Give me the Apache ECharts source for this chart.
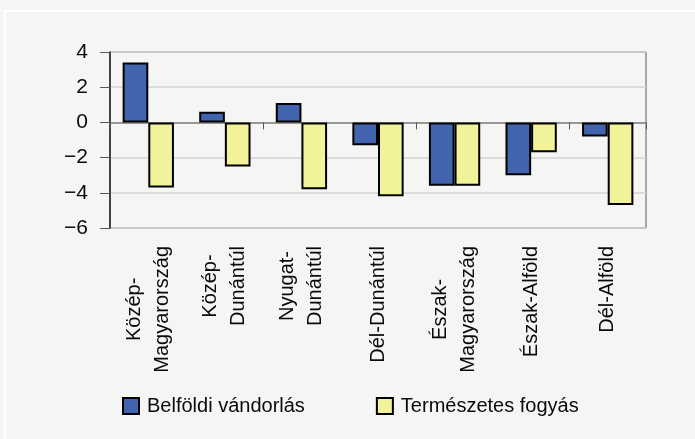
<!DOCTYPE html>
<html><head><meta charset="utf-8">
<script src="https://cdn.jsdelivr.net/npm/echarts@6/dist/echarts.min.js"></script>
<style>html,body{margin:0;padding:0;background:#f5f5f3;} #c{width:695px;height:439px;}</style>
</head><body><div id="c"></div>
<script>
const categories = ['Közép-\nMagyarország', 'Közép-\nDunántúl', 'Nyugat-\nDunántúl', 'Dél-Dunántúl', 'Észak-\nMagyarország', 'Észak-Alföld', 'Dél-Alföld'];
const seriesNames = ['Belföldi vándorlás', 'Természetes fogyás'];
const belfoldiVandorlas = [3.4, 0.6, 1.1, -1.3, -3.6, -3.0, -0.8];
const termeszetesFogyas = [-3.7, -2.5, -3.8, -4.2, -3.6, -1.7, -4.7];
const yMin = -6, yMax = 4, yStep = 2;

const FONT = "'Liberation Sans', Arial, sans-serif";
const chart = echarts.init(document.getElementById('c'), null, {renderer: 'canvas'});
chart.setOption({
  backgroundColor: '#f5f5f3',
  animation: false,
  graphic: [{type: 'rect', silent: true, z: -10, shape: {x: 5, y: 11, width: 720, height: 460}, style: {fill: 'none', stroke: '#ffffff', lineWidth: 2}}],
  grid: {left: 110, top: 52, right: 49, bottom: 211, show: true, borderColor: '#5a5a5a', borderWidth: 1, backgroundColor: 'transparent', containLabel: false},
  legend: {
    left: 117, top: 391, itemWidth: 16, itemHeight: 16, itemGap: 71, icon: 'rect',
    data: seriesNames,
    textStyle: {fontFamily: FONT, fontSize: 20, color: '#0a0a0a', padding: [0, 0, 0, 3]}
  },
  xAxis: [
    {
      type: 'category', data: categories, position: 'bottom',
      axisLine: {show: false, onZero: false}, axisTick: {show: false},
      axisLabel: {
        rotate: 90, margin: 18, interval: 0,
        formatter: v => v.split('\n').map(s => '{l|' + s + '}').join('\n'),
        rich: {l: {align: 'center', fontSize: 20, lineHeight: 28, fontFamily: FONT, color: '#0a0a0a'}}
      }
    },
    {
      type: 'category', data: categories, position: 'bottom',
      axisLine: {show: true, onZero: true, lineStyle: {color: '#808080', width: 1.5}},
      axisTick: {show: true, length: 7, lineStyle: {color: '#555', width: 1}},
      axisLabel: {show: false}
    }
  ],
  yAxis: {
    type: 'value', min: yMin, max: yMax, interval: yStep,
    axisLine: {show: true, lineStyle: {color: '#222', width: 1.5}},
    axisTick: {show: true, length: 10, lineStyle: {color: '#555', width: 1}},
    axisLabel: {fontSize: 21, fontFamily: FONT, color: '#0a0a0a', margin: 22, formatter: v => String(v).replace('-', '\u2212')},
    splitLine: {lineStyle: {color: '#d3d3d3', width: 1.5}}
  },
  series: [
    {name: seriesNames[0], type: 'bar', xAxisIndex: 0, data: belfoldiVandorlas, barGap: '0%', barCategoryGap: '33%',
     itemStyle: {color: '#4264ae', borderColor: '#000', borderWidth: 2}},
    {name: seriesNames[1], type: 'bar', xAxisIndex: 0, data: termeszetesFogyas, barGap: '0%', barCategoryGap: '33%',
     itemStyle: {color: '#f2f29a', borderColor: '#000', borderWidth: 2}}
  ]
});
</script></body></html>
